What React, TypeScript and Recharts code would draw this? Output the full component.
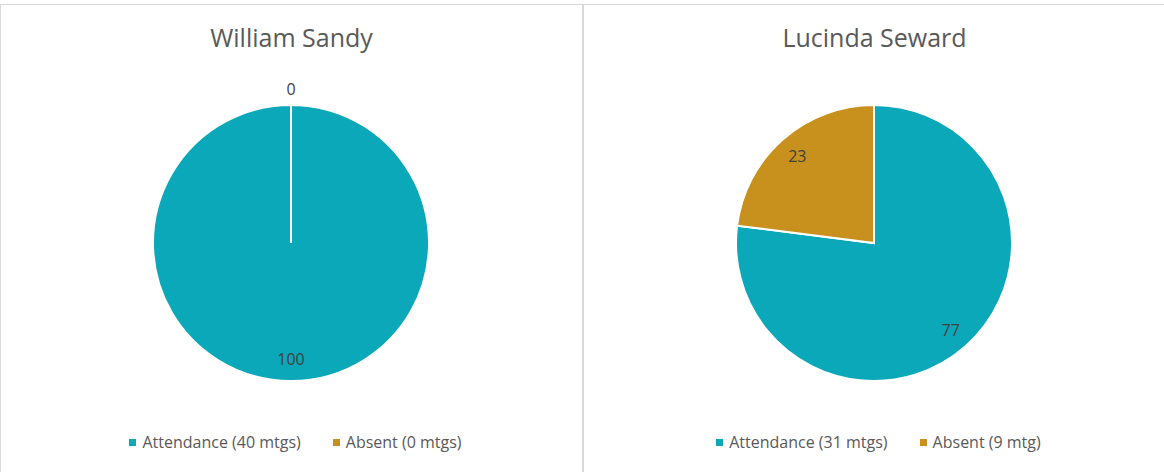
import React from "react";
import { PieChart, Pie, Cell, Legend } from "recharts";

const people = ["William Sandy", "Lucinda Seward"];
const categories = ["Attendance", "Absent"];
const williamValues = [100, 0];
const lucindaValues = [77, 23];
const williamLegend = ["Attendance (40 mtgs)", "Absent (0 mtgs)"];
const lucindaLegend = ["Attendance (31 mtgs)", "Absent (9 mtg)"];
const colors = ["#0AA8B8", "#C8901C"];

const FONT = "'Open Sans', sans-serif";
const RAD = Math.PI / 180;

const renderLabel = (props: any) => {
  const { cx, cy, midAngle, outerRadius, value } = props;
  const r = value === 0 ? outerRadius + 16 : outerRadius * 0.84;
  const x = cx + r * Math.cos(-midAngle * RAD);
  const y = cy + r * Math.sin(-midAngle * RAD);
  return (
    <text
      x={x}
      y={y}
      textAnchor="middle"
      dominantBaseline="central"
      fill="#404040"
      stroke="none"
      fontSize={16}
      fontFamily={FONT}
    >
      {value}
    </text>
  );
};

const makeLegend = (order: string[]) => (props: any) => {
  const payload = [...(props.payload || [])].sort(
    (a: any, b: any) => order.indexOf(a.value) - order.indexOf(b.value)
  );
  return (
    <div
      style={{
        display: "flex",
        justifyContent: "center",
        alignItems: "center",
        fontFamily: FONT,
        fontSize: 16,
        lineHeight: "22px",
        color: "#595959",
        paddingLeft: 8,
      }}
    >
      {payload.map((p: any, i: number) => (
        <div
          key={i}
          style={{
            display: "flex",
            alignItems: "center",
            marginLeft: i === 0 ? 0 : 32,
          }}
        >
          <span
            style={{
              display: "inline-block",
              width: 7,
              height: 7,
              background: p.color,
              marginRight: 6,
            }}
          />
          <span>{p.value}</span>
        </div>
      ))}
    </div>
  );
};

type Panel = { title: string; values: number[]; legend: string[]; left: number; width: number };

const panels: Panel[] = [
  { title: people[0], values: williamValues, legend: williamLegend, left: 0, width: 583 },
  { title: people[1], values: lucindaValues, legend: lucindaLegend, left: 583, width: 581 },
];

export default function App() {
  return (
    <div
      style={{
        position: "absolute",
        left: 0,
        top: 0,
        width: 1164,
        height: 472,
        overflow: "hidden",
        background: "#fff",
      }}
    >
      {panels.map((pn, idx) => {
        const data = categories.map((c, i) => ({
          category: c,
          name: pn.legend[i],
          value: pn.values[i],
        }));
        return (
          <div
            key={idx}
            style={{
              position: "absolute",
              left: pn.left,
              top: 0,
              width: pn.width,
              height: 472,
            }}
          >
            <div
              style={{
                position: "absolute",
                left: 0,
                top: 4,
                width: idx === 0 ? 583 : 600,
                height: 500,
                boxSizing: "border-box",
                border: "1px solid #D9D9D9",
              }}
            />
            <div
              style={{
                position: "absolute",
                left: 0,
                top: 21,
                width: 583,
                textAlign: "center",
                fontFamily: FONT,
                fontSize: 25,
                color: "#595959",
                lineHeight: "32px",
              }}
            >
              {pn.title}
            </div>
            <div style={{ position: "absolute", left: 0, top: 0 }}>
              <PieChart width={583} height={472}>
                <Pie
                  data={data}
                  dataKey="value"
                  nameKey="name"
                  cx={286}
                  cy={216}
                  outerRadius={138}
                  startAngle={90}
                  endAngle={-270}
                  stroke="#FFFFFF"
                  strokeWidth={2}
                  label={renderLabel}
                  labelLine={false}
                  isAnimationActive={false}
                >
                  {data.map((d, i) => (
                    <Cell key={i} fill={colors[i]} />
                  ))}
                </Pie>
                <Legend
                  content={makeLegend(pn.legend)}
                  verticalAlign="top"
                  wrapperStyle={{ position: "absolute", top: 431, left: 0, width: 583 }}
                />
              </PieChart>
            </div>
          </div>
        );
      })}
    </div>
  );
}
